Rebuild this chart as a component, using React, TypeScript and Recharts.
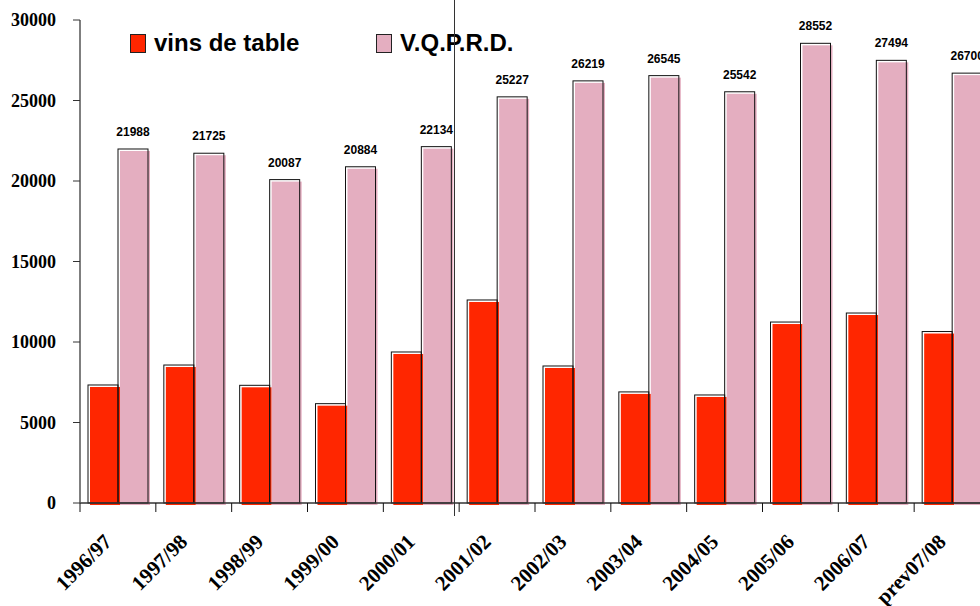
import { BarChart, Bar, XAxis, YAxis, LabelList } from 'recharts';

const categories = [
  '1996/97', '1997/98', '1998/99', '1999/00', '2000/01', '2001/02',
  '2002/03', '2003/04', '2004/05', '2005/06', '2006/07', 'prev07/08',
];
const vinsDeTable = [7330, 8570, 7310, 6170, 9380, 12610, 8510, 6900, 6710, 11240, 11800, 10650];
const vqprd = [21988, 21725, 20087, 20884, 22134, 25227, 26219, 26545, 25542, 28552, 27494, 26700];
const yTicks = [0, 5000, 10000, 15000, 20000, 25000, 30000];

const seriesNames = ['vins de table', 'V.Q.P.R.D.'];
const seriesColors = ['#ff2600', '#e4aec0'];

const data = categories.map((c, i) => ({ period: c, table: vinsDeTable[i], vqprd: vqprd[i] }));

const CHART_W = 990;
const CHART_H = 606;
const Y_W = 80;
const band = (CHART_W - Y_W) / categories.length;

function ShadowBar(props: any) {
  const { x, y, width, height, fill } = props;
  if (!height) return null;
  return (
    <g>
      <rect x={x + 2} y={y + 2} width={width} height={height} fill={fill} />
      <rect x={x} y={y} width={width} height={height} fill="none" stroke="#111" strokeWidth={1} />
    </g>
  );
}

function XTick({ x, y, payload }: any) {
  const left = x - band / 2;
  const tx = x - 5;
  const ty = y + 40;
  return (
    <g>
      <line x1={left} x2={left} y1={y} y2={y + 9} stroke="#111" strokeWidth={1} />
      <text
        x={tx}
        y={ty}
        transform={`rotate(-45 ${tx} ${ty})`}
        textAnchor="end"
        fontFamily="'Liberation Serif', serif"
        fontWeight="bold"
        fontSize={21}
        fill="#000"
      >
        {payload.value}
      </text>
    </g>
  );
}

function TopLabel({ x, y, width, value }: any) {
  return (
    <text
      x={x + width / 2}
      y={y - 13}
      textAnchor="middle"
      fontFamily="'Liberation Sans', Arial, sans-serif"
      fontWeight="bold"
      fontSize={12}
      fill="#000"
    >
      {value}
    </text>
  );
}

export default function App() {
  return (
    <div style={{ position: 'absolute', left: 0, top: 0, width: 980, height: 606, overflow: 'hidden', background: '#fff' }}>
      <BarChart
        width={CHART_W}
        height={CHART_H}
        data={data}
        margin={{ top: 20, right: 0, left: 0, bottom: 0 }}
        barCategoryGap={8}
        barGap={0}
      >
        <XAxis
          dataKey="period"
          height={103}
          interval={0}
          tickLine={false}
          tickSize={0}
          tickMargin={0}
          axisLine={{ stroke: '#333', strokeWidth: 1.5 }}
          tick={<XTick />}
        />
        <YAxis
          width={Y_W}
          domain={[0, 30000]}
          ticks={yTicks}
          interval={0}
          tickSize={7}
          tickMargin={17}
          axisLine={{ stroke: '#555', strokeWidth: 1.5 }}
          tickLine={{ stroke: '#333' }}
          tick={{ fontFamily: "'Liberation Serif', serif", fontWeight: 'bold', fontSize: 18, fill: '#000' }}
        />
        <Bar dataKey="table" name={seriesNames[0]} fill={seriesColors[0]} shape={<ShadowBar />} isAnimationActive={false} />
        <Bar dataKey="vqprd" name={seriesNames[1]} fill={seriesColors[1]} shape={<ShadowBar />} isAnimationActive={false}>
          <LabelList dataKey="vqprd" content={<TopLabel />} />
        </Bar>
      </BarChart>

      {/* legend */}
      <div style={{ position: 'absolute', left: 130, top: 29, display: 'flex', alignItems: 'center', fontFamily: "'Liberation Sans', Arial, sans-serif", fontWeight: 'bold', fontSize: 24 }}>
        {seriesNames.map((n, i) => (
          <div key={n} style={{ display: 'flex', alignItems: 'center', width: i === 0 ? 246 : 'auto' }}>
            <span style={{ display: 'inline-block', width: 14, height: 17, background: seriesColors[i], border: '1px solid #222', marginRight: 8 }} />
            <span>{n}</span>
          </div>
        ))}
      </div>

      {/* thin vertical rule */}
      <div style={{ position: 'absolute', left: 454, top: 0, width: 1, height: 516, background: '#333' }} />
    </div>
  );
}
